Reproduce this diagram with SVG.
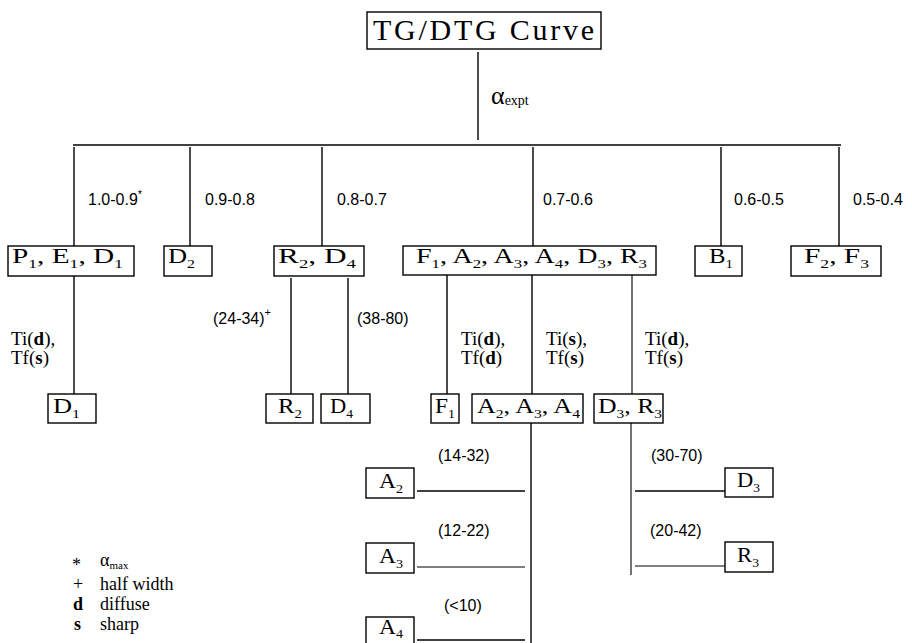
<svg xmlns="http://www.w3.org/2000/svg" width="912" height="643" viewBox="0 0 912 643">
<style>
.box{fill:#fff;stroke:#000;stroke-width:1.4}
.ln{stroke:#000;stroke-width:1.4;fill:none}
.ln2{stroke:#000;stroke-width:1.1;fill:none}
.t{font-family:"Liberation Serif",serif;font-size:20px;fill:#000}
.lb{font-family:"Liberation Sans",Arial,sans-serif;font-size:16px;fill:#000}
.ls{font-family:"Liberation Serif",serif;font-size:19px;fill:#000}
.lg{font-family:"Liberation Serif",serif;font-size:18px;fill:#000}
.s{font-size:12px}
.sm{font-size:11px}
</style>
<rect width="912" height="643" fill="#fff"/>
<g id="connectors">
<path class="ln" d="M478 52V140"/>
<path class="ln" d="M73 145H841"/>
<path class="ln" d="M74 147V246M190 147V246M322 147V246M533 147V246M721 147V246M839 147V246"/>
<path class="ln" d="M74 276V394"/>
<path class="ln" d="M291 278V394M348 278V394"/>
<path class="ln" d="M447 275V395M532 275V395"/>
<path class="ln2" d="M632 275V395"/>
<path class="ln" d="M531 423V643"/>
<path class="ln" d="M417 491H525"/>
<path class="ln2" d="M417 567H525"/>
<path class="ln" d="M417 640H525"/>
<path class="ln2" d="M631 423V575"/>
<path class="ln" d="M635 491H725"/>
<path class="ln2" d="M635 566H725"/>
</g>
<g id="labels">
<text class="ls" x="491" y="104" style="font-size:26px">α<tspan style="font-size:14px" dy="1">expt</tspan></text>
<text class="lb" x="88" y="205">1.0-0.9<tspan class="sm" dy="-7">*</tspan></text>
<text class="lb" x="205" y="205">0.9-0.8</text>
<text class="lb" x="337" y="205">0.8-0.7</text>
<text class="lb" x="543" y="205">0.7-0.6</text>
<text class="lb" x="734" y="205">0.6-0.5</text>
<text class="lb" x="853" y="205">0.5-0.4</text>
<text class="ls" x="11" y="345">Ti(<tspan font-weight="bold">d</tspan>),</text>
<text class="ls" x="11" y="364">Tf(<tspan font-weight="bold">s</tspan>)</text>
<text class="lb" x="213" y="324">(24-34)<tspan class="sm" dy="-8">+</tspan></text>
<text class="lb" x="357" y="324">(38-80)</text>
<text class="ls" x="461" y="345">Ti(<tspan font-weight="bold">d</tspan>),</text>
<text class="ls" x="461" y="364">Tf(<tspan font-weight="bold">d</tspan>)</text>
<text class="ls" x="546" y="345">Ti(<tspan font-weight="bold">s</tspan>),</text>
<text class="ls" x="546" y="364">Tf(<tspan font-weight="bold">s</tspan>)</text>
<text class="ls" x="645" y="345">Ti(<tspan font-weight="bold">d</tspan>),</text>
<text class="ls" x="645" y="364">Tf(<tspan font-weight="bold">s</tspan>)</text>
<text class="lb" x="438" y="461">(14-32)</text>
<text class="lb" x="438" y="536">(12-22)</text>
<text class="lb" x="444" y="611">(&lt;10)</text>
<text class="lb" x="651" y="461">(30-70)</text>
<text class="lb" x="650" y="536">(20-42)</text>
</g>
<g id="legend">
<text class="lg" x="72" y="571">*</text>
<text class="lg" x="100" y="566">α<tspan class="sm" dy="3">max</tspan></text>
<text class="lg" x="73" y="590">+</text>
<text class="lg" x="100" y="590">half width</text>
<text class="lg" x="73" y="610" font-weight="bold">d</text>
<text class="lg" x="100" y="610">diffuse</text>
<text class="lg" x="74" y="630" font-weight="bold">s</text>
<text class="lg" x="100" y="630">sharp</text>
</g>
<g id="n-tg"><rect class="box" x="367" y="12" width="234" height="37"/><text class="t" x="373" y="40" style="font-size:30px" textLength="221" lengthAdjust="spacing">TG/DTG Curve</text></g>
<g id="n-p1e1d1"><rect class="box" x="8" y="246" width="126" height="30"/><text class="t" x="12" y="263" textLength="111" lengthAdjust="spacingAndGlyphs">P<tspan class="s" dy="5">1</tspan><tspan dy="-5">, E</tspan><tspan class="s" dy="5">1</tspan><tspan dy="-5">, D</tspan><tspan class="s" dy="5">1</tspan></text></g>
<g id="n-d2"><rect class="box" x="164" y="246" width="48" height="30"/><text class="t" x="168" y="263" textLength="27" lengthAdjust="spacingAndGlyphs">D<tspan class="s" dy="5">2</tspan></text></g>
<g id="n-r2d4"><rect class="box" x="274" y="246" width="90" height="30"/><text class="t" x="278" y="263" textLength="78" lengthAdjust="spacingAndGlyphs">R<tspan class="s" dy="5">2</tspan><tspan dy="-5">, D</tspan><tspan class="s" dy="5">4</tspan></text></g>
<g id="n-f1group"><rect class="box" x="403" y="246" width="253" height="29"/><text class="t" x="416" y="263" textLength="231" lengthAdjust="spacingAndGlyphs">F<tspan class="s" dy="5">1</tspan><tspan dy="-5">, A</tspan><tspan class="s" dy="5">2</tspan><tspan dy="-5">, A</tspan><tspan class="s" dy="5">3</tspan><tspan dy="-5">, A</tspan><tspan class="s" dy="5">4</tspan><tspan dy="-5">, D</tspan><tspan class="s" dy="5">3</tspan><tspan dy="-5">, R</tspan><tspan class="s" dy="5">3</tspan></text></g>
<g id="n-b1"><rect class="box" x="695" y="246" width="47" height="30"/><text class="t" x="709" y="263" textLength="24" lengthAdjust="spacingAndGlyphs">B<tspan class="s" dy="5">1</tspan></text></g>
<g id="n-f2f3"><rect class="box" x="791" y="246" width="90" height="30"/><text class="t" x="804" y="263" textLength="65" lengthAdjust="spacingAndGlyphs">F<tspan class="s" dy="5">2</tspan><tspan dy="-5">, F</tspan><tspan class="s" dy="5">3</tspan></text></g>
<g id="n-d1"><rect class="box" x="48" y="394" width="48" height="29"/><text class="t" x="53" y="413" textLength="27" lengthAdjust="spacingAndGlyphs">D<tspan class="s" dy="5">1</tspan></text></g>
<g id="n-r2"><rect class="box" x="266" y="394" width="47" height="29"/><text class="t" x="278" y="413" textLength="24" lengthAdjust="spacingAndGlyphs">R<tspan class="s" dy="5">2</tspan></text></g>
<g id="n-d4"><rect class="box" x="321" y="394" width="49" height="29"/><text class="t" x="330" y="413" textLength="23" lengthAdjust="spacingAndGlyphs">D<tspan class="s" dy="5">4</tspan></text></g>
<g id="n-f1"><rect class="box" x="431" y="394" width="28" height="29"/><text class="t" x="435" y="413" textLength="20" lengthAdjust="spacingAndGlyphs">F<tspan class="s" dy="5">1</tspan></text></g>
<g id="n-a2a3a4"><rect class="box" x="472" y="394" width="111" height="29"/><text class="t" x="477" y="413" textLength="103" lengthAdjust="spacingAndGlyphs">A<tspan class="s" dy="5">2</tspan><tspan dy="-5">, A</tspan><tspan class="s" dy="5">3</tspan><tspan dy="-5">, A</tspan><tspan class="s" dy="5">4</tspan></text></g>
<g id="n-d3r3"><rect class="box" x="594" y="394" width="69" height="29"/><text class="t" x="598" y="413" textLength="64" lengthAdjust="spacingAndGlyphs">D<tspan class="s" dy="5">3</tspan><tspan dy="-5">, R</tspan><tspan class="s" dy="5">3</tspan></text></g>
<g id="n-a2"><rect class="box" x="366" y="468" width="48" height="30"/><text class="t" x="379" y="488" textLength="24" lengthAdjust="spacingAndGlyphs">A<tspan class="s" dy="5">2</tspan></text></g>
<g id="n-a3"><rect class="box" x="366" y="543" width="48" height="30"/><text class="t" x="379" y="563" textLength="24" lengthAdjust="spacingAndGlyphs">A<tspan class="s" dy="5">3</tspan></text></g>
<g id="n-a4"><rect class="box" x="366" y="617" width="48" height="30"/><text class="t" x="379" y="634" textLength="24" lengthAdjust="spacingAndGlyphs">A<tspan class="s" dy="4">4</tspan></text></g>
<g id="n-d3"><rect class="box" x="725" y="468" width="48" height="29"/><text class="t" x="737" y="487" textLength="23" lengthAdjust="spacingAndGlyphs">D<tspan class="s" dy="5">3</tspan></text></g>
<g id="n-r3"><rect class="box" x="725" y="542" width="48" height="30"/><text class="t" x="737" y="562" textLength="22" lengthAdjust="spacingAndGlyphs">R<tspan class="s" dy="5">3</tspan></text></g>
</svg>
